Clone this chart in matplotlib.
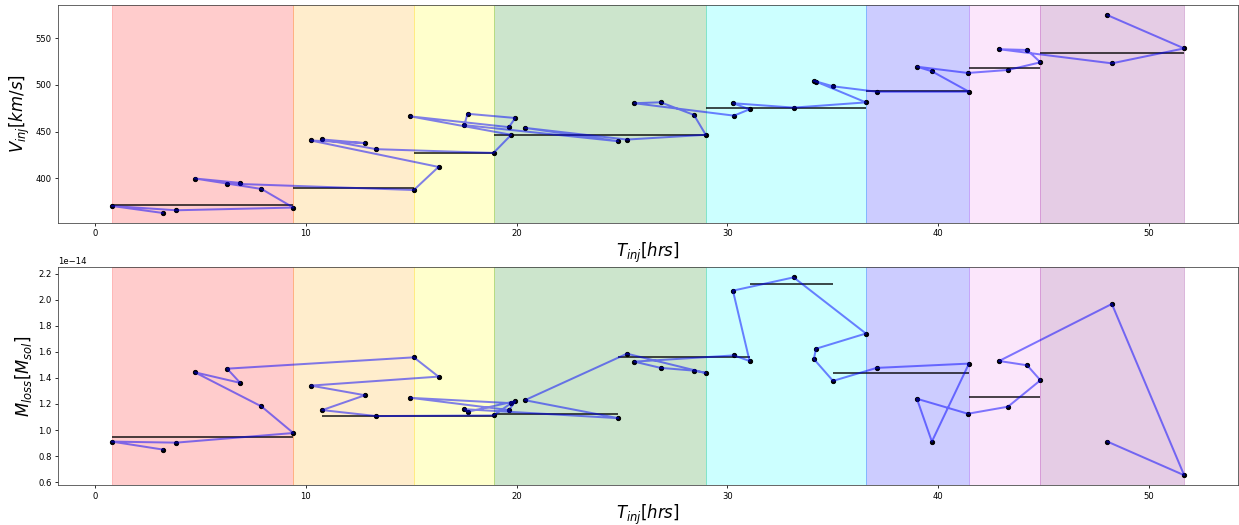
import numpy as np
import matplotlib.pyplot as plt

# datos en el orden en que se unen los puntos
t_inj = [3.21, 0.79, 3.84, 9.40, 7.89, 4.73, 6.88, 6.26, 15.12, 16.29, 10.23, 12.80,
         10.77, 13.34, 18.90, 19.74, 14.96, 19.63, 19.93, 17.67, 17.51, 24.82, 20.39, 25.23,
         28.97, 28.41, 26.83, 25.58, 30.31, 31.05, 30.26, 33.14, 36.57, 34.20, 34.10, 35.01,
         37.08, 41.46, 39.70, 38.99, 41.41, 43.31, 44.85, 44.22, 42.89, 48.24, 51.67, 48.03]
v_inj = [362.8, 370.3, 365.7, 368.6, 388.5, 399.7, 395.0, 394.3, 387.4, 412.1, 440.4, 437.6,
         441.5, 431.1, 427.1, 446.5, 466.2, 454.7, 464.5, 469.0, 456.9, 439.6, 453.9, 441.4,
         446.5, 467.8, 481.3, 480.3, 467.0, 473.8, 480.3, 475.6, 481.2, 503.5, 504.3, 498.4,
         492.6, 492.6, 514.5, 519.4, 512.7, 515.9, 524.1, 537.3, 538.1, 523.0, 539.0, 574.6]
m_loss = [0.850, 0.911, 0.903, 0.977, 1.181, 1.443, 1.362, 1.471, 1.558, 1.410, 1.341, 1.267,
          1.153, 1.107, 1.112, 1.206, 1.247, 1.153, 1.221, 1.140, 1.160, 1.091, 1.229, 1.586,
          1.438, 1.456, 1.477, 1.525, 1.573, 1.530, 2.070, 2.172, 1.741, 1.624, 1.545, 1.377,
          1.477, 1.510, 0.911, 1.240, 1.125, 1.179, 1.382, 1.497, 1.530, 1.968, 0.653, 0.911]

# limites de cada evento
bordes = [0.79, 9.40, 15.12, 18.90, 28.97, 36.57, 41.46, 44.85, 51.67]
colores = ["red", "orange", "yellow", "green", "cyan", "blue", "violet", "purple"]

# promedios (lineas negras)
v_prom = [371.0, 389.6, 427.5, 446.8, 475.1, 493.0, 518.5, 533.9]
m_ini = [0.79, 10.77, 18.90, 24.82, 31.05, 35.01, 41.46]
m_fin = [9.40, 18.90, 24.82, 31.05, 35.01, 41.46, 44.85]
m_prom = [0.946, 1.107, 1.123, 1.563, 2.121, 1.441, 1.257]

t = np.array(t_inj)
v = np.array(v_inj)
m = np.array(m_loss) * 1e-14

fig, (ax1, ax2) = plt.subplots(2, 1, figsize=(1239/72, 525/72), dpi=72)
plt.subplots_adjust(left=0.047, right=0.999, top=0.990, bottom=0.076, hspace=0.205)

for ax in (ax1, ax2):
    for i in range(len(colores)):
        ax.axvspan(bordes[i], bordes[i+1], color=colores[i], alpha=0.2)
    ax.tick_params(labelsize=8.5, length=3)
    for s in ax.spines.values():
        s.set_color("#444444")

ax1.scatter(t, v, color="k", s=18, zorder=2)
ax1.plot(t, v, "b-", alpha=0.5, lw=2, zorder=3)
ax1.hlines(v_prom, bordes[:-1], bordes[1:], color="k", alpha=0.7, lw=2, zorder=2)
ax1.set_xlabel("$T_{inj}[hrs]$", fontsize=16.5, labelpad=2)
ax1.set_ylabel("$V_{inj}[km/s]$", fontsize=16.5)

ax2.scatter(t, m, color="k", s=18, zorder=2)
ax2.plot(t, m, "b-", alpha=0.5, lw=2, zorder=3)
ax2.hlines(np.array(m_prom) * 1e-14, m_ini, m_fin, color="k", alpha=0.7, lw=2, zorder=2)
ax2.set_xlabel("$T_{inj}[hrs]$", fontsize=16.5, labelpad=2)
ax2.set_ylabel("$M_{loss}[M_{sol}]$", fontsize=16.5)
ax2.yaxis.get_offset_text().set_fontsize(8.5)

plt.savefig("out.png", dpi=72)
